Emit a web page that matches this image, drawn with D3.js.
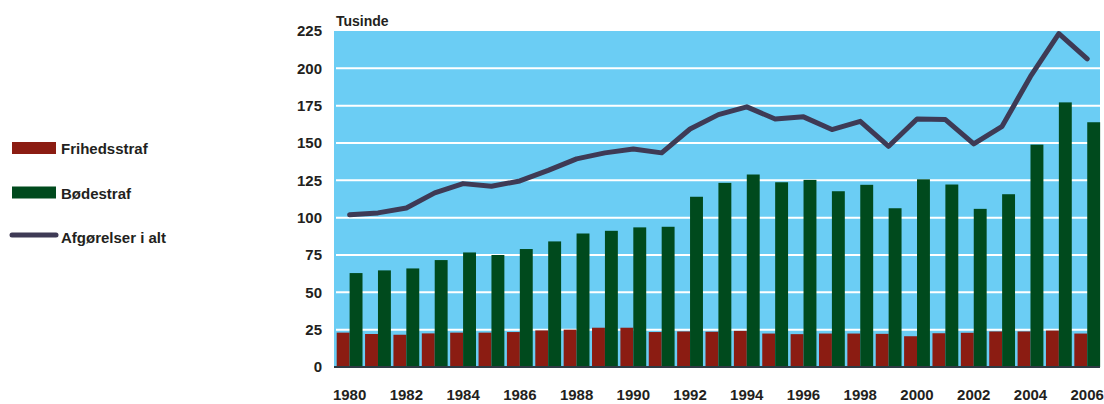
<!DOCTYPE html>
<html>
<head>
<meta charset="utf-8">
<script src="https://cdn.jsdelivr.net/npm/d3@7"></script>
<style>
  body { margin: 0; background: #fff; }
  text { font-family: "Liberation Sans", Arial, sans-serif; font-weight: bold; fill: #231f20; }
</style>
</head>
<body>
<script>
// Data (tusinde)
var years = d3.range(1980, 2007);
var frihedsstraf = [23.0, 22.1, 21.6, 22.5, 23.0, 23.0, 23.4, 24.5, 25.0, 26.3, 26.3, 23.4, 23.8, 23.6,
                    24.2, 22.4, 22.0, 22.4, 22.4, 22.2, 20.6, 22.6, 22.9, 23.8, 23.8, 24.4, 22.4];
var bodestraf = [62.9, 64.7, 66.0, 71.6, 76.7, 75.0, 79.0, 84.1, 89.4, 91.2, 93.5, 93.9, 114.0, 123.3,
                 128.9, 123.7, 125.3, 117.7, 122.0, 106.3, 125.7, 122.2, 105.9, 115.7, 148.9, 177.2, 163.9];
var ialt = [101.9, 103.2, 106.5, 116.6, 122.8, 121.0, 124.6, 131.7, 139.4, 143.4, 146.0, 143.4, 159.4, 169.0,
            174.2, 166.1, 167.5, 159.0, 164.5, 147.8, 166.1, 165.7, 149.4, 161.2, 194.6, 223.2, 206.3];
var yTicks = [0, 25, 50, 75, 100, 125, 150, 175, 200, 225];
var xLabels = years.filter(function(d) { return d % 2 === 0; });

var colRed = "#8b1c12", colGreen = "#004a1d", colLine = "#3e3a55", colBg = "#6bcdf4";

var margin = { top: 31, left: 334, right: 4, bottom: 37 };
var W = 1104, H = 404;
var width = W - margin.left - margin.right;
var height = H - margin.top - margin.bottom;

var svg = d3.select("body").append("svg")
    .attr("width", W)
    .attr("height", H);

var g = svg.append("g")
    .attr("transform", "translate(" + margin.left + "," + margin.top + ")");

var x = d3.scaleBand().domain(years).range([0, width]);
var y = d3.scaleLinear().domain([0, 225]).range([height, 0]);

// background
g.append("rect")
    .attr("width", width)
    .attr("height", height)
    .attr("fill", colBg);

// gridlines
g.selectAll(".grid")
    .data(yTicks.filter(function(d) { return d > 0 && d < 225; }))
  .enter().append("line")
    .attr("x1", 2).attr("x2", width)
    .attr("y1", function(d) { return y(d); })
    .attr("y2", function(d) { return y(d); })
    .attr("stroke", "#fff")
    .attr("stroke-width", 2);

var bw = x.bandwidth();
var off = bw * 0.095;
var barW = bw * 0.455;

// Frihedsstraf bars
g.selectAll(".red")
    .data(years)
  .enter().append("rect")
    .attr("x", function(d) { return x(d) + off; })
    .attr("y", function(d, i) { return y(frihedsstraf[i]); })
    .attr("width", barW)
    .attr("height", function(d, i) { return height - y(frihedsstraf[i]); })
    .attr("fill", colRed);

// Bødestraf bars
g.selectAll(".green")
    .data(years)
  .enter().append("rect")
    .attr("x", function(d) { return x(d) + off + barW; })
    .attr("y", function(d, i) { return y(bodestraf[i]); })
    .attr("width", barW)
    .attr("height", function(d, i) { return height - y(bodestraf[i]); })
    .attr("fill", colGreen);

// line
var line = d3.line()
    .x(function(d, i) { return x(years[i]) + off + barW; })
    .y(function(d) { return y(d); });

g.append("path")
    .datum(ialt)
    .attr("d", line)
    .attr("fill", "none")
    .attr("stroke", colLine)
    .attr("stroke-width", 5)
    .attr("stroke-linejoin", "round")
    .attr("stroke-linecap", "round");

// baseline
g.append("line")
    .attr("x1", 0).attr("x2", width)
    .attr("y1", height).attr("y2", height)
    .attr("stroke", "#2e3a44")
    .attr("stroke-width", 2);

// y labels
g.selectAll(".ylab")
    .data(yTicks)
  .enter().append("text")
    .attr("x", -12)
    .attr("y", function(d) { return y(d); })
    .attr("dy", "0.36em")
    .attr("text-anchor", "end")
    .style("font-size", "15px")
    .text(function(d) { return d; });

// x labels
g.selectAll(".xlab")
    .data(xLabels)
  .enter().append("text")
    .attr("x", function(d) { return x(d) + off + barW; })
    .attr("y", height + 33)
    .attr("text-anchor", "middle")
    .style("font-size", "15px")
    .text(function(d) { return d; });

g.append("text")
    .attr("x", 2)
    .attr("y", -5)
    .style("font-size", "14px")
    .text("Tusinde");

// legend
var legend = [
    { name: "Frihedsstraf", type: "bar", color: colRed },
    { name: "Bødestraf", type: "bar", color: colGreen },
    { name: "Afgørelser i alt", type: "line", color: colLine }
];
var lg = svg.selectAll(".leg")
    .data(legend)
  .enter().append("g")
    .attr("transform", function(d, i) { return "translate(0," + (148 + i * 44.5) + ")"; });

lg.filter(function(d) { return d.type === "bar"; })
  .append("rect")
    .attr("x", 12).attr("y", -6)
    .attr("width", 44).attr("height", 12)
    .attr("fill", function(d) { return d.color; });

lg.filter(function(d) { return d.type === "line"; })
  .append("line")
    .attr("x1", 12).attr("x2", 56)
    .attr("y1", -2).attr("y2", -2)
    .attr("stroke", function(d) { return d.color; })
    .attr("stroke-width", 5)
    .attr("stroke-linecap", "round");

lg.append("text")
    .attr("x", 61)
    .attr("y", 6)
    .style("font-size", "15px")
    .text(function(d) { return d.name; });
</script>
</body>
</html>
